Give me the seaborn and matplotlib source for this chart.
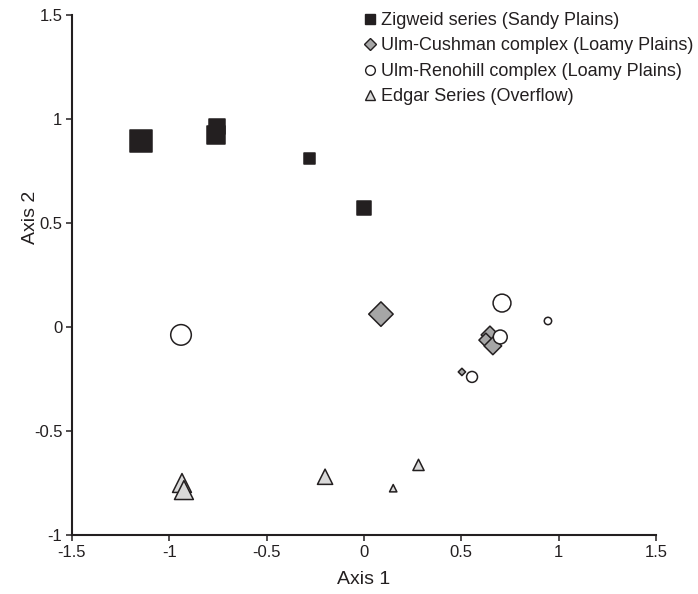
import numpy as np
import pandas as pd
import matplotlib
matplotlib.use("Agg")
import matplotlib.pyplot as plt
from matplotlib.lines import Line2D
import seaborn as sns

# ordination scores, one list per soil group
groups = [
    "Zigweid series (Sandy Plains)",
    "Ulm-Cushman complex (Loamy Plains)",
    "Ulm-Renohill complex (Loamy Plains)",
    "Edgar Series (Overflow)",
]

zig_x = [-1.145, -0.755, -0.76, -0.278, 0.0]
zig_y = [0.895, 0.965, 0.925, 0.812, 0.572]
zig_w = [250, 120, 170, 65, 90]

cush_x = [0.087, 0.647, 0.626, 0.662, 0.503]
cush_y = [0.062, -0.038, -0.063, -0.091, -0.216]
cush_w = [155, 80, 50, 80, 14]

reno_x = [-0.94, 0.709, 0.70, 0.945, 0.555]
reno_y = [-0.038, 0.115, -0.048, 0.029, -0.24]
reno_w = [220, 165, 100, 28, 62]

edgar_x = [-0.935, -0.925, -0.2, 0.15, 0.28]
edgar_y = [-0.75, -0.784, -0.72, -0.775, -0.663]
edgar_w = [185, 185, 120, 28, 65]

x_ticks = [-1.5, -1, -0.5, 0, 0.5, 1, 1.5]
y_ticks = [-1, -0.5, 0, 0.5, 1, 1.5]


def tick_fmt(v):
    return f"{v:g}"


df = pd.concat([
    pd.DataFrame({"Axis 1": zig_x, "Axis 2": zig_y, "w": zig_w, "group": groups[0]}),
    pd.DataFrame({"Axis 1": cush_x, "Axis 2": cush_y, "w": cush_w, "group": groups[1]}),
    pd.DataFrame({"Axis 1": reno_x, "Axis 2": reno_y, "w": reno_w, "group": groups[2]}),
    pd.DataFrame({"Axis 1": edgar_x, "Axis 2": edgar_y, "w": edgar_w, "group": groups[3]}),
], ignore_index=True)

sns.set_style("ticks")
plt.rcParams["font.family"] = ["Liberation Sans", "DejaVu Sans"]

colors = {groups[0]: "#231f20", groups[1]: "#a6a6a6", groups[2]: "#ffffff", groups[3]: "#d9d9d9"}
markers = {groups[0]: "s", groups[1]: "D", groups[2]: "o", groups[3]: "^"}
edge = "#231f20"

fig = plt.figure(figsize=(6.98, 5.94), dpi=100)
ax = fig.add_axes([72 / 698, 1 - 535 / 594, 584 / 698, 520 / 594])

sns.scatterplot(
    data=df, x="Axis 1", y="Axis 2", hue="group", style="group", size="w",
    palette=colors, markers=markers, sizes=(0, 300), size_norm=(0, 300),
    edgecolor=edge, linewidth=1.1, legend=False, ax=ax, zorder=3,
)

ax.set_xlim(-1.5, 1.5)
ax.set_ylim(-1, 1.5)
ax.set_xticks(x_ticks)
ax.set_yticks(y_ticks)
ax.set_xticklabels([tick_fmt(v) for v in x_ticks])
ax.set_yticklabels([tick_fmt(v) for v in y_ticks])
ax.tick_params(axis="both", labelsize=12, length=4, width=1.1, color="#231f20",
               labelcolor="#231f20", direction="out", pad=3)
ax.set_xlabel("Axis 1", fontsize=14, color="#231f20", labelpad=8)
ax.set_ylabel("Axis 2", fontsize=14, color="#231f20")
ax.yaxis.set_label_coords(-0.057, 0.61)
for side in ["top", "right"]:
    ax.spines[side].set_visible(False)
for side in ["left", "bottom"]:
    ax.spines[side].set_linewidth(1.5)
    ax.spines[side].set_color("#231f20")

handles = [
    Line2D([], [], linestyle="none", marker=markers[g], markersize=ms,
           markerfacecolor=colors[g], markeredgecolor=edge, markeredgewidth=1.0)
    for g, ms in zip(groups, [7, 6, 7, 7])
]
fig.legend(handles, groups, loc="upper left", bbox_to_anchor=(363 / 698, 1 - 12 / 594),
           frameon=False, fontsize=13, handlelength=0.8, handletextpad=0.2,
           labelspacing=0.47, borderpad=0, borderaxespad=0, labelcolor="#231f20")

fig.savefig("out.png", dpi=100)
